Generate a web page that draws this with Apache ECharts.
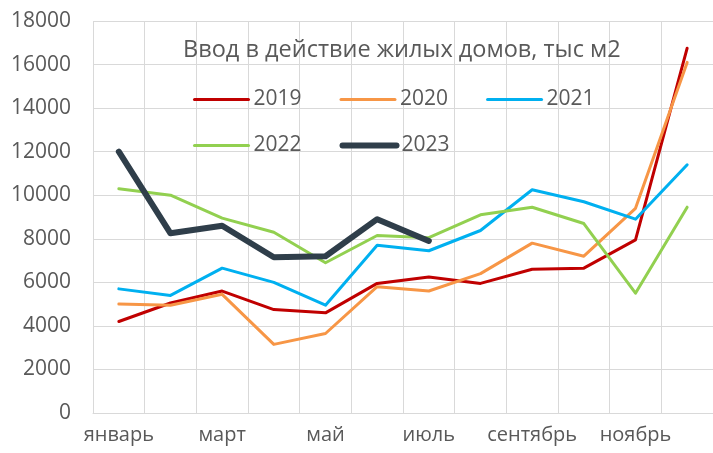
<!DOCTYPE html>
<html>
<head>
<meta charset="utf-8">
<script src="https://cdn.jsdelivr.net/npm/echarts@6/dist/echarts.min.js"></script>
<style>
    html, body { margin: 0; padding: 0; background: #fff; }
    #chart { width: 713px; height: 453px; }
</style>
</head>
<body>
<div id="chart"></div>
<script>
const months = ['январь', 'февраль', 'март', 'апрель', 'май', 'июнь',
                'июль', 'август', 'сентябрь', 'октябрь', 'ноябрь', 'декабрь'];

const y2019 = [4200, 5050, 5600, 4750, 4600, 5950, 6250, 5950, 6600, 6650, 7950, 16750];
const y2020 = [5000, 4950, 5450, 3150, 3650, 5800, 5600, 6400, 7800, 7200, 9400, 16100];
const y2021 = [5700, 5400, 6650, 6000, 4950, 7700, 7450, 8380, 10250, 9700, 8900, 11400];
const y2022 = [10300, 10000, 8950, 8300, 6900, 8150, 8050, 9100, 9450, 8700, 5500, 9450];
const y2023 = [12000, 8250, 8600, 7150, 7200, 8900, 7900];

const yTicks = { min: 0, max: 18000, interval: 2000 };

const FONT  = '"Open Sans", sans-serif';
const GRAY  = '#595959';
const GRID  = '#D9D9D9';

const widths = { '2019': 3, '2020': 3, '2021': 3, '2022': 3, '2023': 6 };

const chart = echarts.init(document.getElementById('chart'));

function line(name, data, color) {
    return {
        name,
        type:   'line',
        data,
        symbol: 'none',
        lineStyle: { color, width: widths[name], cap: 'round', join: 'round' },
        itemStyle: { color },
        animation: false,
    };
}

function legend(names, top) {
    return {
        data: names.map(n => ({
            name: n,
            lineStyle: { width: widths[n], cap: 'round' },
        })),
        left:       188,
        top,
        itemWidth:  54,
        itemHeight: 14,
        itemGap:    38,
        itemStyle:  { opacity: 0 },
        textStyle:  { color: GRAY, fontSize: 21, fontFamily: FONT },
    };
}

chart.setOption({
    backgroundColor: '#fff',
    title: {
        text: 'Ввод в действие жилых домов, тыс м2',
        left: 178,
        top:  33,
        textStyle: { color: GRAY, fontSize: 23.5, fontWeight: 'normal', fontFamily: FONT },
    },
    legend: [
        legend(['2019', '2020', '2021'], 84),
        legend(['2022', '2023'], 130),
    ],
    grid: { left: 93, right: 0, top: 21, bottom: 40 },
    xAxis: {
        type: 'category',
        data: months,
        boundaryGap: true,
        axisLine:  { lineStyle: { color: GRID } },
        axisTick:  { interval: 0, length: 7, lineStyle: { color: GRID } },
        splitLine: { show: true, interval: 0, lineStyle: { color: GRID } },
        axisLabel: { interval: 1, color: GRAY, fontSize: 20, fontFamily: FONT, margin: 12 },
    },
    yAxis: {
        type: 'value',
        min:  yTicks.min,
        max:  yTicks.max,
        interval: yTicks.interval,
        axisLine:  { show: false },
        axisTick:  { show: false },
        splitLine: { lineStyle: { color: GRID } },
        axisLabel: {
            color: GRAY, fontSize: 21, fontFamily: FONT, margin: 22,
            formatter: v => String(v),
        },
    },
    series: [
        line('2019', y2019, '#C00000'),
        line('2020', y2020, '#F79646'),
        line('2021', y2021, '#00B0F0'),
        line('2022', y2022, '#92D050'),
        line('2023', y2023, '#2F3E4A'),
    ],
});
</script>
</body>
</html>
